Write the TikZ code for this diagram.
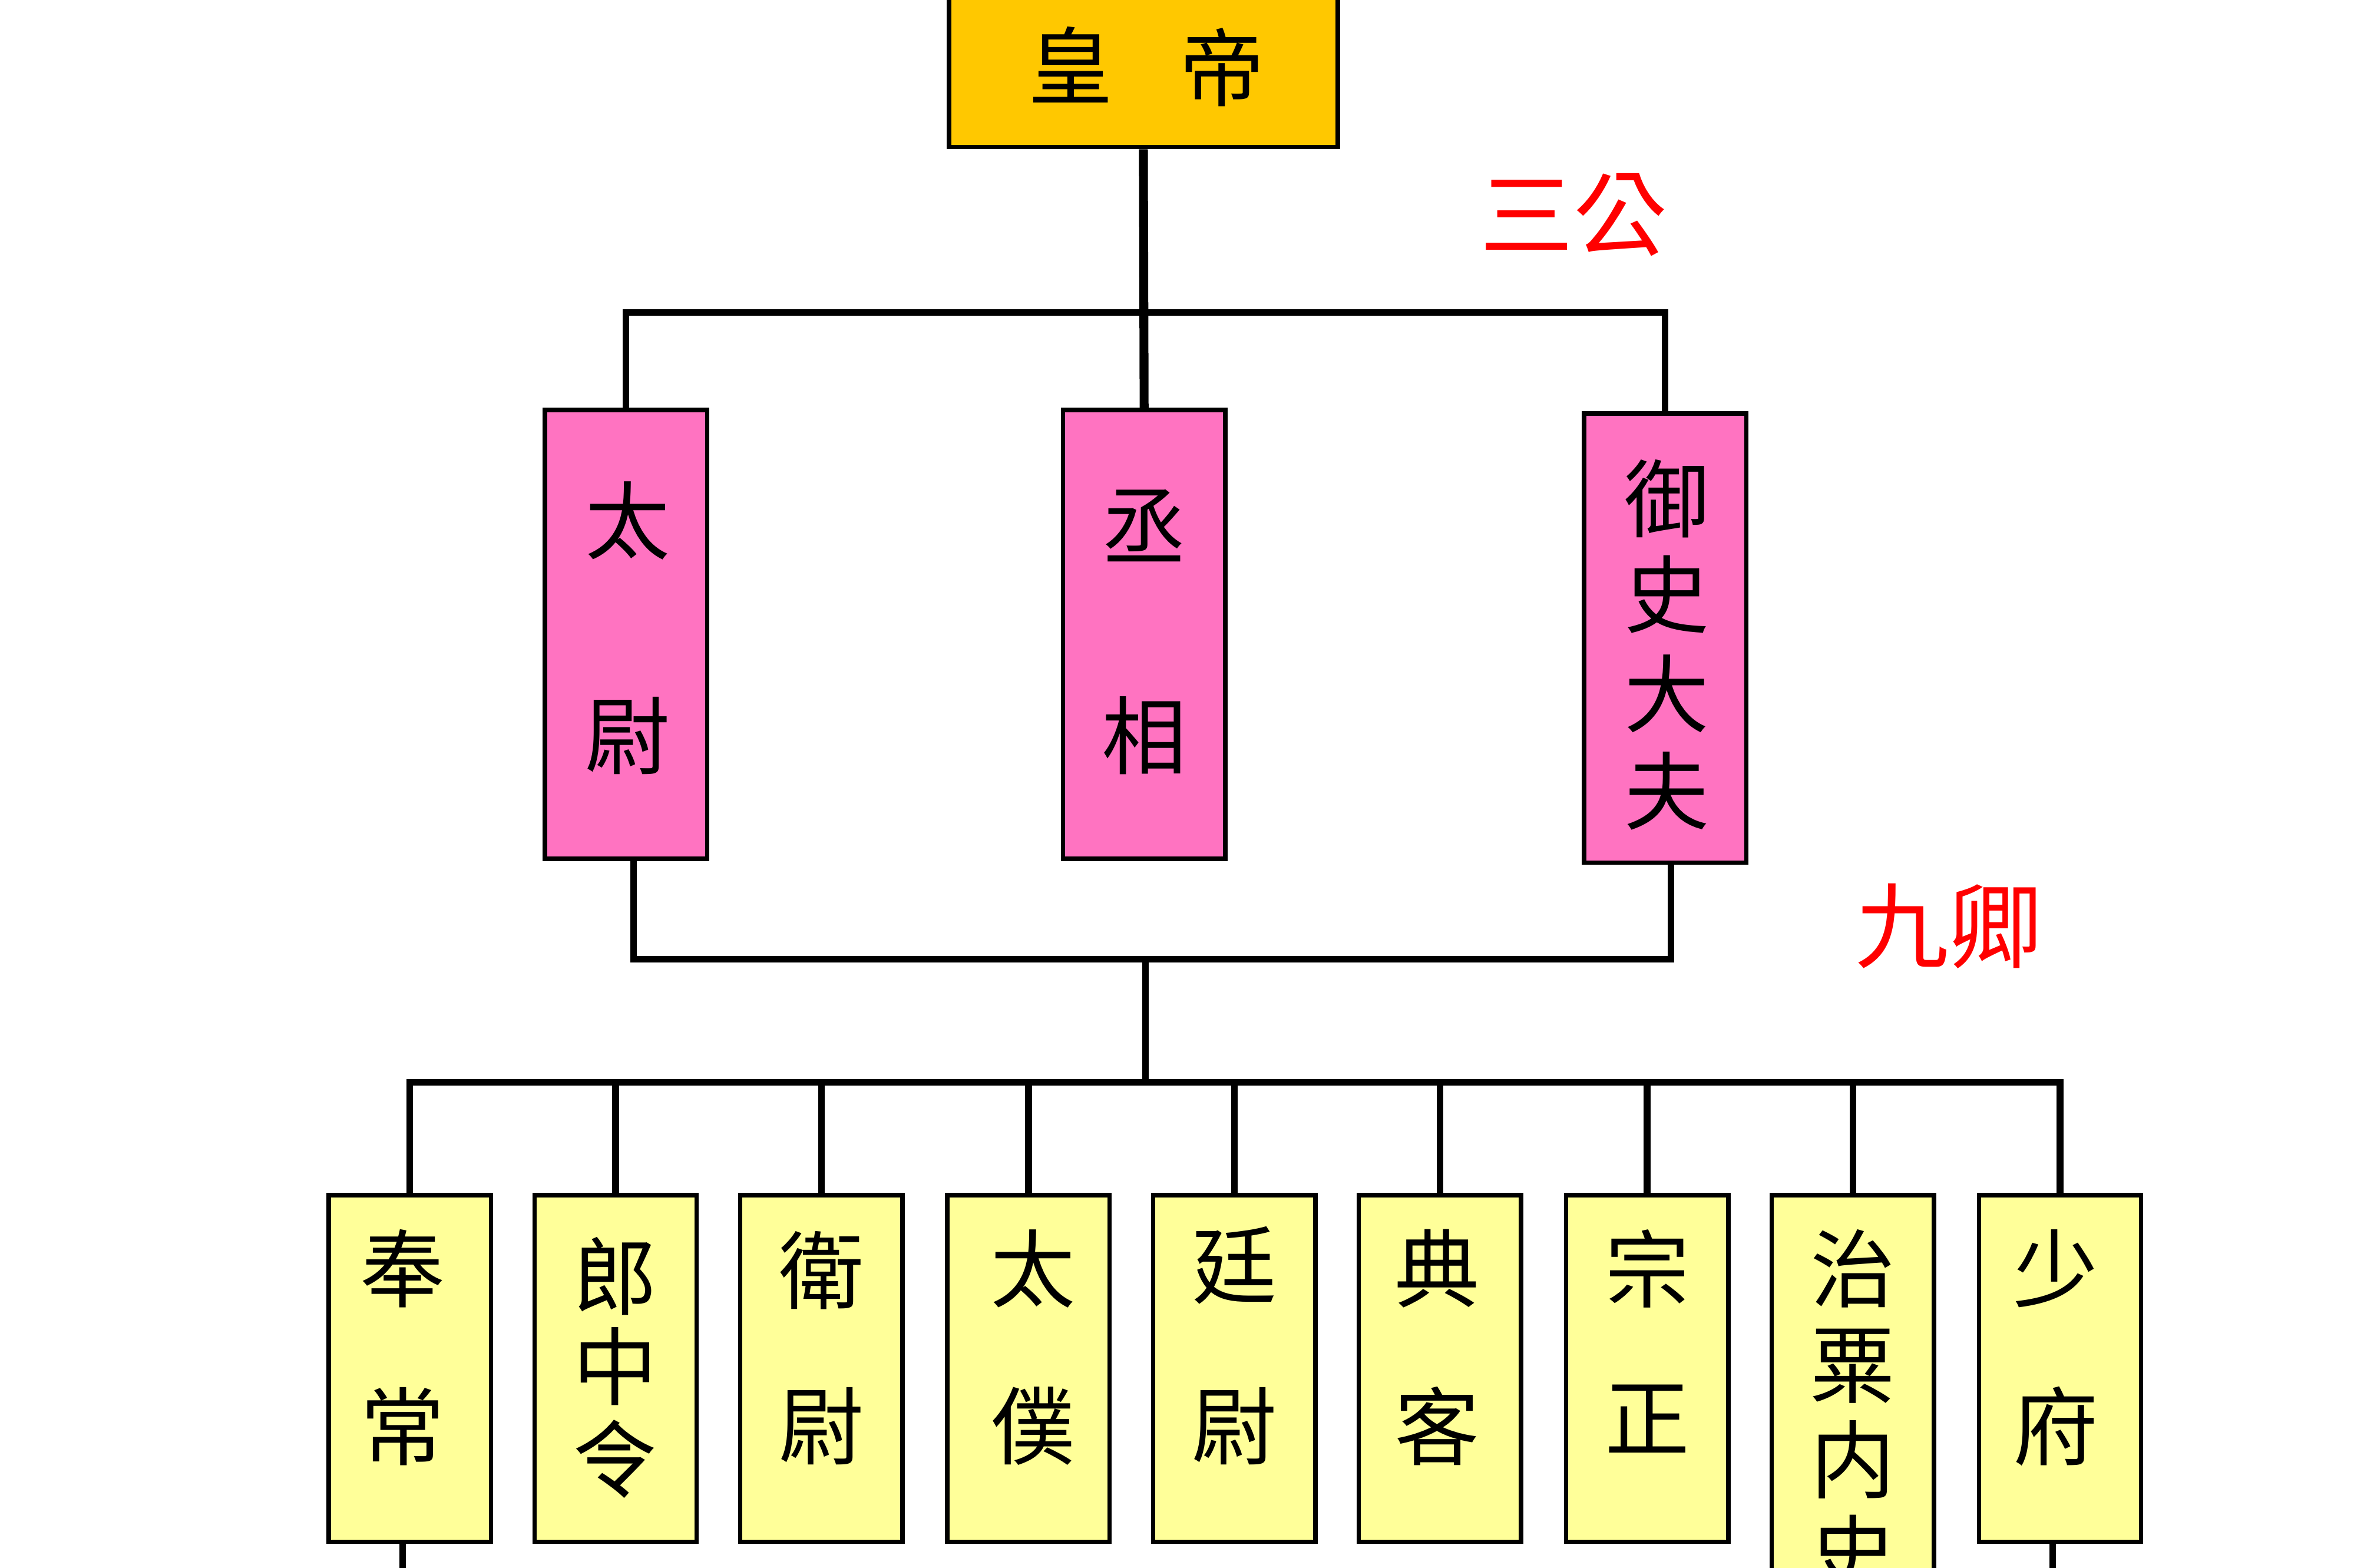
\documentclass[tikz,border=0pt]{standalone}
\usepackage{fontspec}
\newfontfamily\cjk{Noto Sans CJK TC}
\usetikzlibrary{calc}
\definecolor{gold}{HTML}{FFC800}
\definecolor{pinkbox}{HTML}{FF73C1}
\definecolor{yelbox}{HTML}{FFFF99}
\begin{document}
\begin{tikzpicture}[x=0.024875cm,y=-0.024875cm,
  boxbase/.style={draw=black,line width=2.1pt,inner sep=0pt},
  empbox/.style={boxbase,fill=gold,minimum width=6.443cm,minimum height=3.43cm},
  gongbox/.style={boxbase,fill=pinkbox,minimum width=2.687cm,minimum height=7.438cm},
  qingbox/.style={boxbase,fill=yelbox,minimum width=2.687cm,minimum height=5.746cm},
  ch/.style={font=\cjk\fontsize{40}{40}\selectfont,inner sep=0pt},
  redlabel/.style={font=\cjk\fontsize{44}{44}\selectfont,inner sep=0pt,text=red},
  conn/.style={line width=3.1pt,draw=black},
  thickconn/.style={line width=4.2pt,draw=black}]
\useasboundingbox (0,0) rectangle (1567.8,1044.4);

% emperor
\node[empbox] (emp) at (761.5,29) {};
\node[ch] (empA) at (713,43) {皇};
\node[ch] (empB) at (814,45) {帝};

% labels
\node[redlabel] (sangong) at (1048,143) {三公};
\node[redlabel] (jiuqing) at (1298,617) {九卿};

% three dukes
\node[gongbox] (tw) at (417,422.5) {};
\node[gongbox] (cx) at (762,422.5) {};
\node[gongbox] (ys) at (1109,425) {};
\node[ch] (twA) at (418,347) {太};
\node[ch] (twB) at (418,490) {尉};
\node[ch] (cxA) at (762,350) {丞};
\node[ch] (cxB) at (762,490) {相};
\node[ch] (ysA) at (1110,332) {御};
\node[ch] (ysB) at (1110,396) {史};
\node[ch] (ysC) at (1110,462) {大};
\node[ch] (ysD) at (1110,527) {夫};

% nine ministers
\foreach \i/\x in {1/273,2/410,3/547,4/685,5/822,6/959,7/1097,9/1372}
  \node[qingbox] (g\i) at (\x,911.5) {};
\node[qingbox,minimum height=7.46cm] (g8) at (1234,946) {};

\node[ch] (g1A) at (268,845) {奉};
\node[ch] (g1B) at (268,950) {常};
\node[ch] (g2A) at (410,850) {郎};
\node[ch] (g2B) at (410,910) {中};
\node[ch] (g2C) at (410,972) {令};
\node[ch] (g3A) at (547,846) {衛};
\node[ch] (g3B) at (547,950) {尉};
\node[ch] (g4A) at (688,845) {太};
\node[ch] (g4B) at (688,950) {僕};
\node[ch] (g5A) at (822,843) {廷};
\node[ch] (g5B) at (822,950) {尉};
\node[ch] (g6A) at (957,845) {典};
\node[ch] (g6B) at (957,950) {客};
\node[ch] (g7A) at (1097,845) {宗};
\node[ch] (g7B) at (1097,945) {正};
\node[ch] (g8A) at (1234,845) {治};
\node[ch] (g8B) at (1234,910) {粟};
\node[ch] (g8C) at (1234,972) {内};
\node[ch] (g8D) at (1234,1035) {史};
\node[ch] (g9A) at (1369,845) {少};
\node[ch] (g9B) at (1369,950) {府};

% connectors
\coordinate (j1) at (761.5,208);
\draw[thickconn] (emp.south) -- (cx.north);
\draw[conn] (tw.north) |- (j1) -| (ys.north);

\coordinate (tb) at ($(tw.south)+(5,0)$);
\coordinate (yb) at ($(ys.south)+(4,0)$);
\coordinate (j2) at (763,639);
\coordinate (j3) at (763,721);
\draw[conn] (tb) |- (j2) -| (yb);
\draw[conn] (j2) -- (j3);
\draw[conn] (g1.north) |- (j3) -| (g9.north);
\foreach \i in {2,...,8}
  \draw[conn] (g\i.north) -- (g\i.north |- j3);

\coordinate (b1) at ($(g1.south)+(-5,0)$);
\coordinate (b1e) at (268,1050);
\coordinate (b9) at ($(g9.south)+(-5,0)$);
\coordinate (b9e) at (1367,1050);
\draw[conn] (b1) -- (b1e);
\draw[conn] (b9) -- (b9e);
\end{tikzpicture}
\end{document}
